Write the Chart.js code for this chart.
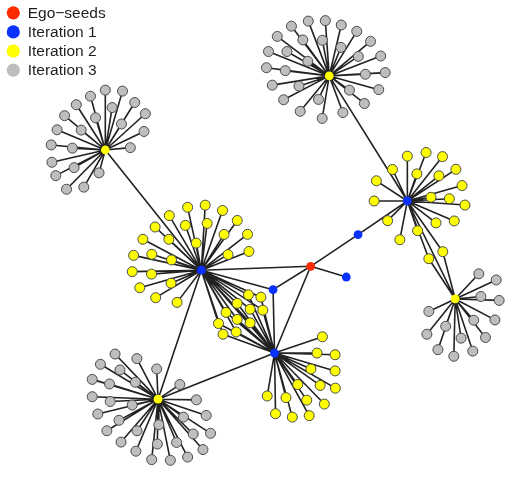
<!DOCTYPE html>
<html>
<head>
<meta charset="utf-8">
<script src="https://cdn.jsdelivr.net/npm/chart.js@4.4.1/dist/chart.umd.min.js"></script>
<style>
  html, body { margin: 0; padding: 0; background: #fff; }
  canvas { display: block; }
</style>
</head>
<body>
<canvas id="snowball" width="511" height="478"></canvas>
<script>
// Layout coordinates of the snowball sample (x to the right, y downwards)
const egoSeeds = [[312, 267]];

// B1..B6
const iteration1 = [
  [360.5, 234.5], [348.5, 278], [273.5, 291], [200, 271], [275, 356], [411, 200]
];

// Y1..Y4 : iteration 2 nodes that were expanded again
const iteration2Hubs = [
  [101.7, 147.7], [331, 71.7], [460, 300.5], [155.7, 403.3]
];

// iteration 2 leaves, grouped by the nodes they hang from
const leavesB4 = [
  [186, 206.5], [204, 204.3], [221.7, 209.8], [236.8, 220], [247.3, 234.2], [248.8, 251.8],
  [167.2, 215], [152.7, 226.7], [140.2, 239.3], [130.7, 255.8], [129.3, 272.5], [137, 289],
  [153.3, 299.2], [175.2, 304], [183.7, 225], [206, 223], [223.3, 234.3], [194.8, 243.2],
  [166.8, 239.3], [149.3, 254.7], [169.5, 260.5], [149, 275], [169, 284.3], [227.3, 255]
];
const leavesB4B5 = [
  [248.3, 296.3], [261, 298.7], [236.7, 305], [250, 311], [263, 312], [225.3, 314.3],
  [236.7, 321.5], [250, 325], [217.6, 325.7], [222.3, 336.7], [235.7, 334.3]
];
const leavesB5 = [
  [324, 339.3], [318.5, 356], [337, 357.7], [312.3, 372.3], [337, 374.3], [298.7, 388.3],
  [321.7, 389.2], [337.3, 392], [267.5, 400], [286.7, 401.7], [308, 404.3], [326, 408.3],
  [276, 418.2], [293.2, 421.7], [310.5, 420.2]
];
const leavesB6 = [
  [411, 154], [430.2, 150.3], [447, 154.5], [395.8, 167.7], [420.8, 172.2], [460.7, 167.5],
  [443.3, 174.2], [379.3, 179.3], [467, 184.2], [435.2, 196.2], [454, 197.7], [377, 200],
  [470, 204.2], [390.8, 220.2], [440.3, 222.5], [459, 220.5], [421.5, 230.5], [403.3, 239.7]
];
const leavesB6Y3 = [[433, 259.2], [447.3, 252]];

// iteration 3 leaves
const leavesY1 = [
  [101.7, 86.3], [119.3, 87.3], [86.5, 92.5], [72, 101.3], [131.8, 99], [108.7, 104.2],
  [60, 112.5], [142.7, 110.5], [91.7, 114.7], [118.3, 121], [52.3, 127], [77, 127.3],
  [141.3, 128.7], [46.3, 142.5], [68, 145.8], [127.3, 145.3], [47, 160.3], [69.7, 165.8],
  [51, 174], [95.3, 171.2], [62, 188], [79.7, 185.8]
];
const leavesY2 = [
  [292.3, 20.7], [309.6, 15.5], [327, 15], [343.3, 19.5], [359.2, 26], [277.8, 31.2],
  [304, 34.8], [324, 35.2], [373.3, 36.3], [343, 42.5], [268.8, 46.7], [287.7, 46.7],
  [360.8, 51.7], [383.7, 51.3], [309, 56.7], [266.7, 63.3], [286, 66.3], [368, 70],
  [388.3, 68.3], [272.7, 81.2], [300, 82.2], [351.7, 86.3], [381.7, 85.8], [284.3, 96.2],
  [320, 95.8], [367, 100], [301.3, 108], [345, 109.3], [323.8, 115.3]
];
const leavesY3 = [
  [484.2, 274.7], [502, 281], [486.3, 298], [505, 302], [433, 313.3], [479, 322.3],
  [500.7, 322], [450.3, 328.5], [431, 336.7], [466, 340.7], [491, 340], [442.3, 352.5],
  [458.6, 359.3], [478, 354]
];
const leavesY4 = [
  [111.7, 357], [134, 361.7], [96.7, 367.5], [116.7, 373.3], [154.3, 372.3], [88.3, 383],
  [106, 387.7], [132.5, 386], [178, 388.3], [88.3, 400.8], [106.7, 405.7], [129.2, 409.3],
  [195, 404], [94, 418.5], [115.7, 425], [205, 420], [181.7, 421.7], [103.3, 435.7],
  [134.2, 435.7], [156.5, 429.5], [191.7, 439], [209.5, 438.3], [117.8, 447.3], [155, 449.3],
  [174.7, 447.7], [133, 456.7], [201.7, 455], [149.2, 465.3], [168.3, 466], [186, 462.7]
];

// ties between the expanded nodes
const hubEdges = [
  ['S', 'B1'], ['B1', 'B6'], ['S', 'B2'], ['S', 'B3'], ['S', 'B4'], ['S', 'B5'],
  ['B3', 'B4'], ['B3', 'B5'], ['B4', 'B5'], ['B4', 'Y1'], ['B4', 'Y4'], ['B5', 'Y4'],
  ['B6', 'Y2'], ['B6', 'Y3']
];

const legendLabels = ['Ego\u2212seeds', 'Iteration 1', 'Iteration 2', 'Iteration 3'];
const legendColors = ['#ff2a00', '#0a32ff', '#ffff00', '#bebebe'];

// name -> position for the expanded nodes
const nodes = { S: egoSeeds[0] };
iteration1.forEach((p, i) => { nodes['B' + (i + 1)] = p; });
iteration2Hubs.forEach((p, i) => { nodes['Y' + (i + 1)] = p; });

const leafGroups = [
  { hubs: ['B4'], leaves: leavesB4 },
  { hubs: ['B4', 'B5'], leaves: leavesB4B5 },
  { hubs: ['B5'], leaves: leavesB5 },
  { hubs: ['B6'], leaves: leavesB6 },
  { hubs: ['B6', 'Y3'], leaves: leavesB6Y3 },
  { hubs: ['Y1'], leaves: leavesY1 },
  { hubs: ['Y2'], leaves: leavesY2 },
  { hubs: ['Y3'], leaves: leavesY3 },
  { hubs: ['Y4'], leaves: leavesY4 }
];

// every edge becomes a two point segment, separated by gaps
const edgePoints = [];
function addEdge(a, b) {
  edgePoints.push({ x: a[0], y: a[1] }, { x: b[0], y: b[1] }, { x: null, y: null });
}
hubEdges.forEach(([a, b]) => addEdge(nodes[a], nodes[b]));
leafGroups.forEach(g => g.hubs.forEach(h => g.leaves.forEach(l => addEdge(nodes[h], l))));

const toXY = arr => arr.map(p => ({ x: p[0], y: p[1] }));
const iteration2Leaves = [].concat(leavesB4, leavesB4B5, leavesB5, leavesB6, leavesB6Y3);
const iteration3 = [].concat(leavesY1, leavesY2, leavesY3, leavesY4);

function hubSet(data, color) {
  return {
    data: toXY(data), order: 0, clip: false,
    pointRadius: 4.4, pointBackgroundColor: color, pointBorderWidth: 0, pointBorderColor: color
  };
}
function leafSet(data, color) {
  return {
    data: toXY(data), order: 1, clip: false,
    pointRadius: 5, pointBackgroundColor: color, pointBorderColor: '#4a4a4a', pointBorderWidth: 1
  };
}

const legendPlugin = {
  id: 'iterationLegend',
  afterDraw(chart) {
    const ctx = chart.ctx;
    ctx.save();
    ctx.font = '15.5px "Liberation Sans", Arial, sans-serif';
    ctx.textBaseline = 'middle';
    legendLabels.forEach((label, i) => {
      const y = 12.8 + i * 19.1;
      ctx.beginPath();
      ctx.arc(13.3, y, 6.6, 0, Math.PI * 2);
      ctx.fillStyle = legendColors[i];
      ctx.fill();
      ctx.fillStyle = '#1e1e1e';
      ctx.fillText(label, 27.7, y + 0.5);
    });
    ctx.restore();
  }
};

new Chart(document.getElementById('snowball'), {
  type: 'scatter',
  data: {
    datasets: [
      {
        data: edgePoints, order: 2, showLine: true, spanGaps: false, clip: false,
        borderColor: 'rgba(15,15,15,0.92)', borderWidth: 1.6, pointRadius: 0, tension: 0
      },
      leafSet(iteration3, legendColors[3]),
      leafSet(iteration2Leaves, legendColors[2]),
      hubSet(iteration2Hubs, legendColors[2]),
      hubSet(iteration1, legendColors[1]),
      hubSet(egoSeeds, legendColors[0])
    ]
  },
  options: {
    responsive: false,
    animation: false,
    events: [],
    layout: { padding: 0 },
    scales: {
      x: { type: 'linear', min: 0, max: 511, display: false },
      y: { type: 'linear', min: 0, max: 478, reverse: true, display: false }
    },
    plugins: {
      legend: { display: false },
      tooltip: { enabled: false }
    }
  },
  plugins: [legendPlugin]
});
</script>
</body>
</html>
